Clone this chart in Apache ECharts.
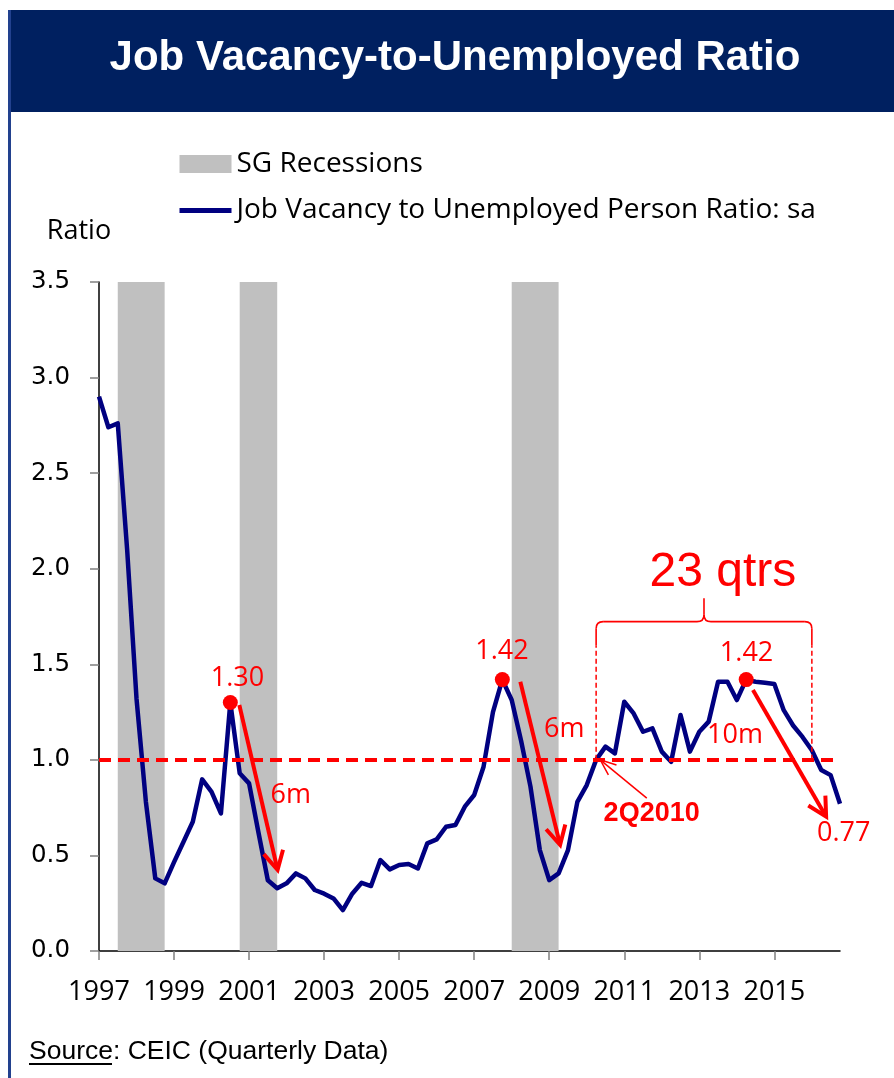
<!DOCTYPE html>
<html>
<head>
<meta charset="utf-8">
<script src="https://cdn.jsdelivr.net/npm/echarts@6/dist/echarts.min.js"></script>
<style>
html,body{margin:0;padding:0;background:#fff;}
#c{width:894px;height:1078px;}
</style>
</head>
<body>
<div id="c"></div>
<script>
// ---- Data (quarterly, 1997Q1 .. 2016Q4) ----
const startYear = 1997;
const ratio = [
  2.90, 2.74, 2.76, 2.10, 1.32, 0.78, 0.38, 0.354,
  0.465, 0.57, 0.676, 0.898, 0.833, 0.72, 1.30, 0.93,
  0.877, 0.62, 0.37, 0.328, 0.354, 0.406, 0.38, 0.319,
  0.30, 0.275, 0.214, 0.30, 0.357, 0.34, 0.476, 0.427,
  0.45, 0.455, 0.432, 0.563, 0.584, 0.65, 0.659, 0.755,
  0.816, 0.964, 1.25, 1.42, 1.313, 1.10, 0.86, 0.528,
  0.371, 0.406, 0.528, 0.78, 0.868, 1.00, 1.069, 1.034,
  1.304, 1.243, 1.147, 1.165, 1.043, 0.99, 1.235, 1.043,
  1.147, 1.20, 1.409, 1.409, 1.313, 1.42, 1.409, 1.403,
  1.397, 1.26, 1.18, 1.12, 1.05, 0.947, 0.92, 0.77
];
// Recession periods [start, end] in decimal years
const recessions = [[1997.5, 1998.75], [2000.75, 2001.75], [2008.0, 2009.25]];
const xTickYears = [1997, 1999, 2001, 2003, 2005, 2007, 2009, 2011, 2013, 2015];
const peaks = [[2000.5, 1.30], [2007.75, 1.42], [2014.25, 1.42]];
const threshold = 1.0;

const seriesData = ratio.map((v, i) => [startYear + i / 4, v]);

const RED = '#FF0000';
const NAVY = '#000080';
const HUM = "'Open Sans', Carlito, Lato, sans-serif";
const ARIAL = "'Liberation Sans', Arial, sans-serif";

const chart = echarts.init(document.getElementById('c'), null, {renderer: 'canvas'});

const option = {
  animation: false,
  backgroundColor: '#ffffff',
  grid: {left: 99, right: 54, top: 282, bottom: 127, containLabel: false},
  legend: {
    orient: 'vertical', left: 177, top: 150, padding: 0,
    itemWidth: 52, itemHeight: 18, itemGap: 18.5,
    textStyle: {fontFamily: HUM, fontSize: 28, color: '#000'},
    data: [
      {name: 'SG Recessions', icon: 'rect', itemStyle: {color: '#C0C0C0'}},
      {name: 'Job Vacancy to Unemployed Person Ratio: sa',
       itemStyle: {opacity: 0}, lineStyle: {color: NAVY, width: 5, opacity: 1}}
    ]
  },
  xAxis: {
    type: 'value', min: startYear, max: startYear + (ratio.length - 1) / 4,
    interval: 2,
    splitLine: {show: false},
    axisLine: {lineStyle: {color: '#000', width: 1.5}},
    axisTick: {show: true, length: 9, lineStyle: {color: '#808080', width: 1.5}, customValues: xTickYears},
    axisLabel: {customValues: xTickYears, fontFamily: HUM, fontSize: 27, color: '#000', margin: 28,
      formatter: v => String(Math.round(v))}
  },
  yAxis: {
    type: 'value', min: 0, max: 3.5, interval: 0.5,
    splitLine: {show: false},
    axisLine: {show: true, lineStyle: {color: '#000', width: 1.5}},
    axisTick: {show: true, length: 9, lineStyle: {color: '#808080', width: 1.5}},
    axisLabel: {fontFamily: "'DejaVu Sans', sans-serif", fontSize: 24.5, color: '#000', margin: 29,
      formatter: v => v.toFixed(1)}
  },
  series: [
    {
      name: 'SG Recessions', type: 'line', data: [], z: 1,
      itemStyle: {color: '#C0C0C0'},
      markArea: {
        silent: true,
        itemStyle: {color: '#C0C0C0'},
        data: recessions.map(r => [{xAxis: r[0]}, {xAxis: r[1]}])
      }
    },
    {
      name: 'Job Vacancy to Unemployed Person Ratio: sa', type: 'line', z: 3,
      data: seriesData, symbol: 'none', showSymbol: false,
      lineStyle: {color: NAVY, width: 4.5, join: 'round'},
      itemStyle: {color: NAVY}
    },
    {
      name: 'annot', type: 'line', data: [], z: 5,
      markLine: {
        silent: true, symbol: ['none', 'none'],
        lineStyle: {color: RED, width: 4, type: [12, 7]},
        label: {show: false},
        data: [{yAxis: threshold}]
      },
      markPoint: {
        silent: true, symbol: 'circle', symbolSize: 15,
        itemStyle: {color: RED},
        label: {show: false},
        data: peaks.map(p => ({coord: p}))
      }
    }
  ]
};
chart.setOption(option);

// ---- Annotations placed through the chart's own coordinate system ----
const P = (x, y) => chart.convertToPixel({gridIndex: 0}, [x, y]);

const arrows = [
  {from: [2000.74, 1.287], to: [2001.76, 0.424], w: 4, head: 21, ang: 28},
  {from: [2008.23, 1.409], to: [2009.29, 0.555], w: 4, head: 21, ang: 28},
  {from: [2014.43, 1.365], to: [2016.38, 0.703], w: 4, head: 21, ang: 28},
  {from: [2011.60, 0.80], to: [2010.36, 1.0], w: 1.5, head: 17, ang: 22}
];
const texts = [
  {t: '1.30', at: [2000.69, 1.427], size: 27, font: HUM, w: 'normal'},
  {t: '6m', at: [2002.11, 0.816], size: 27, font: HUM, w: 'normal'},
  {t: '1.42', at: [2007.74, 1.566], size: 27, font: HUM, w: 'normal'},
  {t: '6m', at: [2009.40, 1.16], size: 27, font: HUM, w: 'normal'},
  {t: '1.42', at: [2014.26, 1.557], size: 27, font: HUM, w: 'normal'},
  {t: '10m', at: [2013.95, 1.13], size: 27, font: HUM, w: 'normal'},
  {t: '0.77', at: [2016.85, 0.615], size: 27, font: HUM, w: 'normal'},
  {t: '2Q2010', at: [2011.73, 0.72], size: 27, font: ARIAL, w: 'bold'},
  {t: '23 qtrs', at: [2013.63, 1.978], size: 48, font: ARIAL, w: 'normal'}
];
const bracket = {x0: 2010.25, x1: 2016.0, yDashBottom: 1.0, ySolid: 1.60, yBrace: 1.723, yTip: 1.845};

const g = [];
// title bar
g.push({type: 'rect', z: 100, shape: {x: 8, y: 10, width: 886, height: 102}, style: {fill: '#002060'}});
g.push({type: 'text', z: 101, style: {text: 'Job Vacancy-to-Unemployed Ratio', x: 455, y: 58, align: 'center', verticalAlign: 'middle',
  font: "bold 42px 'Liberation Sans', Arial, sans-serif", fill: '#ffffff'}});
// left border
g.push({type: 'line', z: 100, shape: {x1: 9.5, y1: 10, x2: 9.5, y2: 1078}, style: {stroke: '#22418e', lineWidth: 3}});
// axis name
g.push({type: 'text', z: 101, style: {text: 'Ratio', x: 79, y: 231, align: 'center', verticalAlign: 'middle',
  font: "27px " + HUM, fill: '#000'}});
// source
g.push({type: 'text', z: 101, style: {text: 'Source: CEIC (Quarterly Data)', x: 29, y: 1052, align: 'left', verticalAlign: 'middle',
  font: "26.5px 'Liberation Sans', Arial, sans-serif", fill: '#000'}});
g.push({type: 'line', z: 101, shape: {x1: 29, y1: 1064, x2: 112, y2: 1064}, style: {stroke: '#000', lineWidth: 1.8}});

// arrows
arrows.forEach(a => {
  const p1 = P(a.from[0], a.from[1]);
  const p2 = P(a.to[0], a.to[1]);
  const dx = p2[0] - p1[0], dy = p2[1] - p1[1];
  const L = Math.hypot(dx, dy);
  const ux = dx / L, uy = dy / L;
  const r = a.ang * Math.PI / 180;
  const rot = (s) => {
    const c = Math.cos(s * r), sn = Math.sin(s * r);
    return [ux * c - uy * sn, ux * sn + uy * c];
  };
  const d1 = rot(1), d2 = rot(-1);
  const A = [p2[0] - d1[0] * a.head, p2[1] - d1[1] * a.head];
  const B = [p2[0] - d2[0] * a.head, p2[1] - d2[1] * a.head];
  g.push({type: 'line', z: 110, shape: {x1: p1[0], y1: p1[1], x2: p2[0] - ux * a.w * 0.5, y2: p2[1] - uy * a.w * 0.5},
    style: {stroke: RED, lineWidth: a.w}});
  g.push({type: 'polyline', z: 110, shape: {points: [A, p2, B]},
    style: {stroke: RED, lineWidth: a.w, lineJoin: 'miter', fill: null}});
});

// bracket
(function () {
  const pL = P(bracket.x0, bracket.yDashBottom), pR = P(bracket.x1, bracket.yDashBottom);
  const yS = P(bracket.x0, bracket.ySolid)[1];
  const yB = P(bracket.x0, bracket.yBrace)[1];
  const yT = P(bracket.x0, bracket.yTip)[1];
  const xL = pL[0], xR = pR[0], xm = (xL + xR) / 2, rr = 7;
  const st = {stroke: RED, lineWidth: 1.6, fill: null};
  g.push({type: 'line', z: 105, shape: {x1: xL, y1: pL[1], x2: xL, y2: yS}, style: {stroke: RED, lineWidth: 1.5, lineDash: [5, 3]}});
  g.push({type: 'line', z: 105, shape: {x1: xR, y1: pR[1], x2: xR, y2: yS}, style: {stroke: RED, lineWidth: 1.5, lineDash: [5, 3]}});
  g.push({type: 'line', z: 105, shape: {x1: xL, y1: yS, x2: xL, y2: yB + rr}, style: st});
  g.push({type: 'bezierCurve', z: 105, shape: {x1: xL, y1: yB + rr, cpx1: xL, cpy1: yB, x2: xL + rr, y2: yB}, style: st});
  g.push({type: 'line', z: 105, shape: {x1: xL + rr, y1: yB, x2: xm - rr, y2: yB}, style: st});
  g.push({type: 'bezierCurve', z: 105, shape: {x1: xm - rr, y1: yB, cpx1: xm, cpy1: yB, x2: xm, y2: yB - rr}, style: st});
  g.push({type: 'line', z: 105, shape: {x1: xm, y1: yB - rr, x2: xm, y2: yT}, style: st});
  g.push({type: 'bezierCurve', z: 105, shape: {x1: xm, y1: yB - rr, cpx1: xm, cpy1: yB, x2: xm + rr, y2: yB}, style: st});
  g.push({type: 'line', z: 105, shape: {x1: xm + rr, y1: yB, x2: xR - rr, y2: yB}, style: st});
  g.push({type: 'bezierCurve', z: 105, shape: {x1: xR - rr, y1: yB, cpx1: xR, cpy1: yB, x2: xR, y2: yB + rr}, style: st});
  g.push({type: 'line', z: 105, shape: {x1: xR, y1: yB + rr, x2: xR, y2: yS}, style: st});
})();

// texts
texts.forEach(t => {
  const p = P(t.at[0], t.at[1]);
  g.push({type: 'text', z: 112, style: {text: t.t, x: p[0], y: p[1], align: 'center', verticalAlign: 'middle',
    font: `${t.w} ${t.size}px ${t.font}`, fill: RED}});
});

chart.setOption({graphic: g});
</script>
</body>
</html>
